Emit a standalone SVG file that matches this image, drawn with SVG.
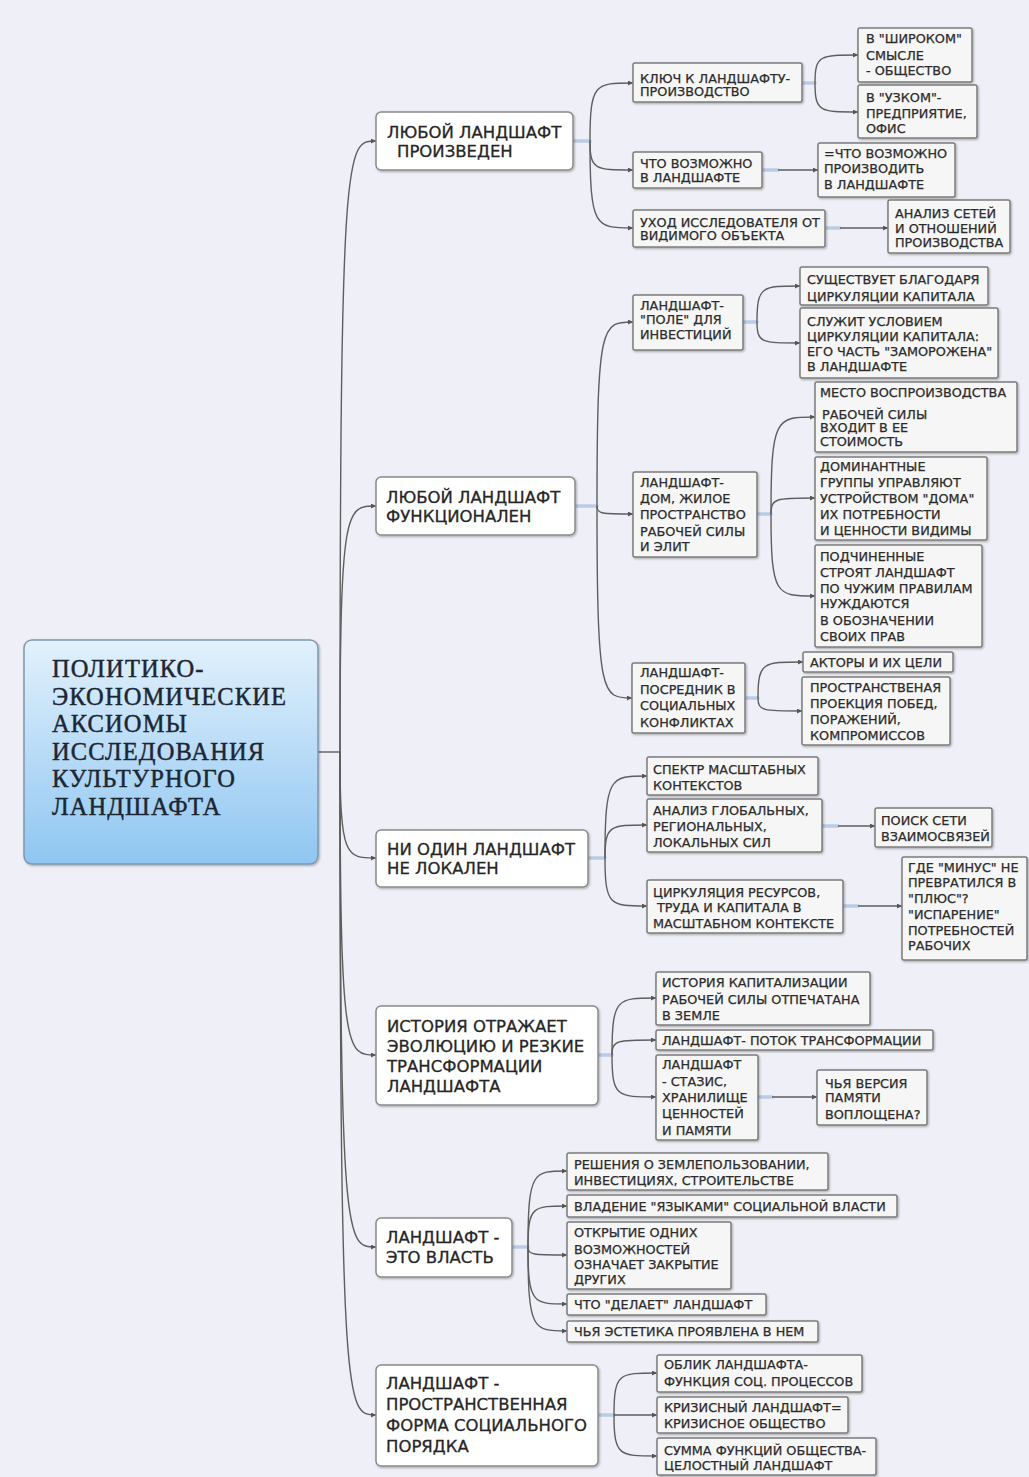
<svg xmlns="http://www.w3.org/2000/svg" width="1029" height="1477" viewBox="0 0 1029 1477">
<style>
.l1{fill:#ffffff;stroke:#8a8a8a;stroke-width:1.5}
.l2{fill:#f6f6f6;stroke:#7c7c7c;stroke-width:1.5}
.t0{font-family:"Liberation Serif","Times New Roman",serif;font-size:24.5px;letter-spacing:1.1px;fill:#1c2633;stroke:#1c2633;stroke-width:0.45}
.t1{font-family:"DejaVu Sans",Verdana,sans-serif;font-size:16.5px;fill:#262626;stroke:#262626;stroke-width:0.3}
.t2{font-family:"DejaVu Sans",Verdana,sans-serif;font-size:12.8px;fill:#2b2b2b;stroke:#2b2b2b;stroke-width:0.25}
.c{fill:none;stroke:#5e5e5e;stroke-width:1.4;marker-end:url(#ah)}
.c0{fill:none;stroke:#5e5e5e;stroke-width:1.4}
.hub{stroke:#b9cbe6;stroke-width:3.5;stroke-linecap:round}
</style>
<defs>
<linearGradient id="rg" x1="0" y1="0" x2="0" y2="1">
<stop offset="0" stop-color="#e2f1fc"/>
<stop offset="1" stop-color="#8fc6f1"/>
</linearGradient>
<filter id="sh" x="-5%" y="-5%" width="115%" height="120%">
<feDropShadow dx="1" dy="1.2" stdDeviation="0.8" flood-color="#000" flood-opacity="0.3"/>
</filter>
<marker id="ah" markerWidth="5" markerHeight="5" refX="5" refY="2.5" orient="auto" markerUnits="userSpaceOnUse">
<path d="M0,0 L5,2.5 L0,5 z" fill="#555"/>
</marker>
</defs>
<rect x="0" y="0" width="1029" height="1477" fill="#eff0f7"/>

<g id="connectors">
<path class="c0" d="M318,752 H340"/>
<path class="c" d="M340,752 C340,141 346,141 376,141"/>
<path class="c" d="M340,752 C340,506 346,506 376,506"/>
<path class="c" d="M340,752 C340,858 346,858 376,858"/>
<path class="c" d="M340,752 C340,1055 346,1055 376,1055"/>
<path class="c" d="M340,752 C340,1247 346,1247 376,1247"/>
<path class="c" d="M340,752 C340,1415 346,1415 376,1415"/>

<line class="hub" x1="574" y1="141" x2="590" y2="141"/>
<path class="c" d="M590,141 C590,83 595,83 633,83"/>
<path class="c" d="M590,141 C590,170 595,170 633,170"/>
<path class="c" d="M590,141 C590,228 595,228 633,228"/>

<line class="hub" x1="803" y1="83" x2="815" y2="83"/>
<path class="c" d="M815,83 C815,55 820,55 858,55"/>
<path class="c" d="M815,83 C815,112 820,112 858,112"/>

<line class="hub" x1="763" y1="170" x2="778" y2="170"/>
<path class="c" d="M778,170 H818"/>
<line class="hub" x1="826" y1="228" x2="840" y2="228"/>
<path class="c" d="M840,228 H888"/>

<line class="hub" x1="576" y1="506" x2="597" y2="506"/>
<path class="c" d="M597,506 C597,322 602,322 633,322"/>
<path class="c" d="M597,506 C597,514 602,514 633,514"/>
<path class="c" d="M597,506 C597,698 602,698 632,698"/>

<line class="hub" x1="744" y1="322" x2="757" y2="322"/>
<path class="c" d="M757,322 C757,286 762,286 800,286"/>
<path class="c" d="M757,322 C757,343 762,343 800,343"/>

<line class="hub" x1="758" y1="514" x2="771" y2="514"/>
<path class="c" d="M771,514 C771,417 776,417 815,417"/>
<path class="c" d="M771,514 C771,498 776,498 815,498"/>
<path class="c" d="M771,514 C771,596 776,596 815,596"/>

<line class="hub" x1="746" y1="698" x2="758" y2="698"/>
<path class="c" d="M758,698 C758,662 763,662 803,662"/>
<path class="c" d="M758,698 C758,711 763,711 802,711"/>

<line class="hub" x1="589" y1="858" x2="605" y2="858"/>
<path class="c" d="M605,858 C605,776 610,776 647,776"/>
<path class="c" d="M605,858 C605,825 610,825 647,825"/>
<path class="c" d="M605,858 C605,906 610,906 647,906"/>

<line class="hub" x1="823" y1="826" x2="838" y2="826"/>
<path class="c" d="M838,826 H875"/>
<line class="hub" x1="844" y1="906" x2="858" y2="906"/>
<path class="c" d="M858,906 H902"/>

<line class="hub" x1="599" y1="1055" x2="612" y2="1055"/>
<path class="c" d="M612,1055 C612,998 617,998 656,998"/>
<path class="c" d="M612,1055 C612,1040 617,1040 656,1040"/>
<path class="c" d="M612,1055 C612,1097 617,1097 656,1097"/>

<line class="hub" x1="759" y1="1097" x2="772" y2="1097"/>
<path class="c" d="M772,1097 H817"/>

<line class="hub" x1="513" y1="1247" x2="528" y2="1247"/>
<path class="c" d="M528,1247 C528,1171 533,1171 567,1171"/>
<path class="c" d="M528,1247 C528,1206 533,1206 567,1206"/>
<path class="c" d="M528,1247 C528,1255 533,1255 567,1255"/>
<path class="c" d="M528,1247 C528,1304 533,1304 567,1304"/>
<path class="c" d="M528,1247 C528,1331 533,1331 567,1331"/>

<line class="hub" x1="599" y1="1415" x2="614" y2="1415"/>
<path class="c" d="M614,1415 C614,1373 619,1373 657,1373"/>
<path class="c" d="M614,1415 C614,1415 619,1415 657,1415"/>
<path class="c" d="M614,1415 C614,1456 619,1456 657,1456"/>
</g>

<g id="root">
<rect x="24" y="640" width="294" height="224" rx="8" fill="url(#rg)" stroke="#7f97ad" stroke-width="1.5" filter="url(#sh)"/>
<text class="t0"><tspan x="52" y="677">ПОЛИТИКО-</tspan><tspan x="52" y="704.5">ЭКОНОМИЧЕСКИЕ</tspan><tspan x="52" y="732">АКСИОМЫ</tspan><tspan x="52" y="759.5">ИССЛЕДОВАНИЯ</tspan><tspan x="52" y="787">КУЛЬТУРНОГО</tspan><tspan x="52" y="814.5">ЛАНДШАФТА</tspan></text>
</g>

<g id="n1">
<rect class="l1" x="376" y="112" width="197" height="58" rx="5" filter="url(#sh)"/>
<text class="t1"><tspan x="387" y="138">ЛЮБОЙ ЛАНДШАФТ</tspan><tspan x="397" y="157">ПРОИЗВЕДЕН</tspan></text>
</g>
<g id="n2">
<rect class="l1" x="376" y="477" width="199" height="58" rx="5" filter="url(#sh)"/>
<text class="t1"><tspan x="386" y="503">ЛЮБОЙ ЛАНДШАФТ</tspan><tspan x="386" y="522">ФУНКЦИОНАЛЕН</tspan></text>
</g>
<g id="n3">
<rect class="l1" x="376" y="830" width="212" height="57" rx="5" filter="url(#sh)"/>
<text class="t1"><tspan x="387" y="855">НИ ОДИН ЛАНДШАФТ</tspan><tspan x="387" y="874">НЕ ЛОКАЛЕН</tspan></text>
</g>
<g id="n4">
<rect class="l1" x="376" y="1006" width="222" height="99" rx="5" filter="url(#sh)"/>
<text class="t1"><tspan x="387" y="1032">ИСТОРИЯ ОТРАЖАЕТ</tspan><tspan x="387" y="1052">ЭВОЛЮЦИЮ И РЕЗКИЕ</tspan><tspan x="387" y="1072">ТРАНСФОРМАЦИИ</tspan><tspan x="387" y="1092">ЛАНДШАФТА</tspan></text>
</g>
<g id="n5">
<rect class="l1" x="376" y="1218" width="136" height="59" rx="5" filter="url(#sh)"/>
<text class="t1"><tspan x="386" y="1243">ЛАНДШАФТ -</tspan><tspan x="386" y="1263">ЭТО ВЛАСТЬ</tspan></text>
</g>
<g id="n6">
<rect class="l1" x="376" y="1365" width="222" height="101" rx="5" filter="url(#sh)"/>
<text class="t1"><tspan x="386" y="1389">ЛАНДШАФТ -</tspan><tspan x="386" y="1410">ПРОСТРАНСТВЕННАЯ</tspan><tspan x="386" y="1431">ФОРМА СОЦИАЛЬНОГО</tspan><tspan x="386" y="1452">ПОРЯДКА</tspan></text>
</g>

<g id="a1">
<rect class="l2" x="633" y="63" width="169" height="39" rx="2" filter="url(#sh)"/>
<text class="t2"><tspan x="640" y="83">КЛЮЧ К ЛАНДШАФТУ-</tspan><tspan x="640" y="96">ПРОИЗВОДСТВО</tspan></text>
</g>
<g id="a1a">
<rect class="l2" x="858" y="28" width="114" height="54" rx="2" filter="url(#sh)"/>
<text class="t2"><tspan x="866" y="43">В "ШИРОКОМ"</tspan><tspan x="866" y="60">СМЫСЛЕ</tspan><tspan x="866" y="75">- ОБЩЕСТВО</tspan></text>
</g>
<g id="a1b">
<rect class="l2" x="858" y="85" width="119" height="53" rx="2" filter="url(#sh)"/>
<text class="t2"><tspan x="866" y="102">В "УЗКОМ"-</tspan><tspan x="866" y="118">ПРЕДПРИЯТИЕ,</tspan><tspan x="866" y="133">ОФИС</tspan></text>
</g>
<g id="a2">
<rect class="l2" x="633" y="152" width="129" height="36" rx="2" filter="url(#sh)"/>
<text class="t2"><tspan x="640" y="168">ЧТО ВОЗМОЖНО</tspan><tspan x="640" y="182">В ЛАНДШАФТЕ</tspan></text>
</g>
<g id="a2a">
<rect class="l2" x="818" y="143" width="137" height="54" rx="2" filter="url(#sh)"/>
<text class="t2"><tspan x="824" y="158">=ЧТО ВОЗМОЖНО</tspan><tspan x="824" y="173">ПРОИЗВОДИТЬ</tspan><tspan x="824" y="189">В ЛАНДШАФТЕ</tspan></text>
</g>
<g id="a3">
<rect class="l2" x="633" y="210" width="192" height="37" rx="2" filter="url(#sh)"/>
<text class="t2"><tspan x="640" y="227">УХОД ИССЛЕДОВАТЕЛЯ ОТ</tspan><tspan x="640" y="240">ВИДИМОГО ОБЪЕКТА</tspan></text>
</g>
<g id="a3a">
<rect class="l2" x="888" y="200" width="122" height="53" rx="2" filter="url(#sh)"/>
<text class="t2"><tspan x="895" y="218">АНАЛИЗ СЕТЕЙ</tspan><tspan x="895" y="233">И ОТНОШЕНИЙ</tspan><tspan x="895" y="247">ПРОИЗВОДСТВА</tspan></text>
</g>

<g id="b1">
<rect class="l2" x="633" y="295" width="110" height="55" rx="2" filter="url(#sh)"/>
<text class="t2"><tspan x="640" y="310">ЛАНДШАФТ-</tspan><tspan x="640" y="324">"ПОЛЕ" ДЛЯ</tspan><tspan x="640" y="339">ИНВЕСТИЦИЙ</tspan></text>
</g>
<g id="b1a">
<rect class="l2" x="800" y="267" width="188" height="38" rx="2" filter="url(#sh)"/>
<text class="t2"><tspan x="807" y="284">СУЩЕСТВУЕТ БЛАГОДАРЯ</tspan><tspan x="807" y="301">ЦИРКУЛЯЦИИ КАПИТАЛА</tspan></text>
</g>
<g id="b1b">
<rect class="l2" x="800" y="308" width="198" height="70" rx="2" filter="url(#sh)"/>
<text class="t2"><tspan x="807" y="326">СЛУЖИТ УСЛОВИЕМ</tspan><tspan x="807" y="341">ЦИРКУЛЯЦИИ КАПИТАЛА:</tspan><tspan x="807" y="356">ЕГО ЧАСТЬ "ЗАМОРОЖЕНА"</tspan><tspan x="807" y="371">В ЛАНДШАФТЕ</tspan></text>
</g>
<g id="b2">
<rect class="l2" x="633" y="472" width="124" height="85" rx="2" filter="url(#sh)"/>
<text class="t2"><tspan x="640" y="487">ЛАНДШАФТ-</tspan><tspan x="640" y="503">ДОМ, ЖИЛОЕ</tspan><tspan x="640" y="519">ПРОСТРАНСТВО</tspan><tspan x="640" y="536">РАБОЧЕЙ СИЛЫ</tspan><tspan x="640" y="551">И ЭЛИТ</tspan></text>
</g>
<g id="b2a">
<rect class="l2" x="815" y="382" width="202" height="70" rx="2" filter="url(#sh)"/>
<text class="t2"><tspan x="820" y="397">МЕСТО ВОСПРОИЗВОДСТВА</tspan><tspan x="822" y="419">РАБОЧЕЙ СИЛЫ</tspan><tspan x="820" y="432">ВХОДИТ В ЕЕ</tspan><tspan x="820" y="446">СТОИМОСТЬ</tspan></text>
</g>
<g id="b2b">
<rect class="l2" x="815" y="457" width="172" height="83" rx="2" filter="url(#sh)"/>
<text class="t2"><tspan x="820" y="471">ДОМИНАНТНЫЕ</tspan><tspan x="820" y="487">ГРУППЫ УПРАВЛЯЮТ</tspan><tspan x="820" y="503">УСТРОЙСТВОМ "ДОМА"</tspan><tspan x="820" y="519">ИХ ПОТРЕБНОСТИ</tspan><tspan x="820" y="535">И ЦЕННОСТИ ВИДИМЫ</tspan></text>
</g>
<g id="b2c">
<rect class="l2" x="815" y="545" width="167" height="102" rx="2" filter="url(#sh)"/>
<text class="t2"><tspan x="820" y="561">ПОДЧИНЕННЫЕ</tspan><tspan x="820" y="577">СТРОЯТ ЛАНДШАФТ</tspan><tspan x="820" y="593">ПО ЧУЖИМ ПРАВИЛАМ</tspan><tspan x="820" y="608">НУЖДАЮТСЯ</tspan><tspan x="820" y="625">В ОБОЗНАЧЕНИИ</tspan><tspan x="820" y="641">СВОИХ ПРАВ</tspan></text>
</g>
<g id="b3">
<rect class="l2" x="632" y="663" width="113" height="70" rx="2" filter="url(#sh)"/>
<text class="t2"><tspan x="640" y="677">ЛАНДШАФТ-</tspan><tspan x="640" y="694">ПОСРЕДНИК В</tspan><tspan x="640" y="710">СОЦИАЛЬНЫХ</tspan><tspan x="640" y="727">КОНФЛИКТАХ</tspan></text>
</g>
<g id="b3a">
<rect class="l2" x="803" y="652" width="150" height="20" rx="2" filter="url(#sh)"/>
<text class="t2"><tspan x="810" y="667">АКТОРЫ И ИХ ЦЕЛИ</tspan></text>
</g>
<g id="b3b">
<rect class="l2" x="802" y="677" width="148" height="68" rx="2" filter="url(#sh)"/>
<text class="t2"><tspan x="810" y="692">ПРОСТРАНСТВЕНАЯ</tspan><tspan x="810" y="708">ПРОЕКЦИЯ ПОБЕД,</tspan><tspan x="810" y="724">ПОРАЖЕНИЙ,</tspan><tspan x="810" y="740">КОМПРОМИССОВ</tspan></text>
</g>

<g id="c1">
<rect class="l2" x="647" y="757" width="171" height="38" rx="2" filter="url(#sh)"/>
<text class="t2"><tspan x="653" y="774">СПЕКТР МАСШТАБНЫХ</tspan><tspan x="653" y="790">КОНТЕКСТОВ</tspan></text>
</g>
<g id="c2">
<rect class="l2" x="647" y="799" width="175" height="53" rx="2" filter="url(#sh)"/>
<text class="t2"><tspan x="653" y="815">АНАЛИЗ ГЛОБАЛЬНЫХ,</tspan><tspan x="653" y="831">РЕГИОНАЛЬНЫХ,</tspan><tspan x="653" y="847">ЛОКАЛЬНЫХ СИЛ</tspan></text>
</g>
<g id="c2a">
<rect class="l2" x="875" y="808" width="117" height="39" rx="2" filter="url(#sh)"/>
<text class="t2"><tspan x="881" y="825">ПОИСК СЕТИ</tspan><tspan x="881" y="841">ВЗАИМОСВЯЗЕЙ</tspan></text>
</g>
<g id="c3">
<rect class="l2" x="647" y="880" width="196" height="53" rx="2" filter="url(#sh)"/>
<text class="t2"><tspan x="653" y="897">ЦИРКУЛЯЦИЯ РЕСУРСОВ,</tspan><tspan x="657" y="912">ТРУДА И КАПИТАЛА В</tspan><tspan x="653" y="928">МАСШТАБНОМ КОНТЕКСТЕ</tspan></text>
</g>
<g id="c3a">
<rect class="l2" x="902" y="857" width="125" height="103" rx="2" filter="url(#sh)"/>
<text class="t2"><tspan x="908" y="872">ГДЕ "МИНУС" НЕ</tspan><tspan x="908" y="887">ПРЕВРАТИЛСЯ В</tspan><tspan x="908" y="903">"ПЛЮС"?</tspan><tspan x="908" y="919">"ИСПАРЕНИЕ"</tspan><tspan x="908" y="935">ПОТРЕБНОСТЕЙ</tspan><tspan x="908" y="950">РАБОЧИХ</tspan></text>
</g>

<g id="d1">
<rect class="l2" x="656" y="972" width="214" height="53" rx="2" filter="url(#sh)"/>
<text class="t2"><tspan x="662" y="987">ИСТОРИЯ КАПИТАЛИЗАЦИИ</tspan><tspan x="662" y="1004">РАБОЧЕЙ СИЛЫ ОТПЕЧАТАНА</tspan><tspan x="662" y="1020">В ЗЕМЛЕ</tspan></text>
</g>
<g id="d2">
<rect class="l2" x="656" y="1030" width="277" height="20" rx="2" filter="url(#sh)"/>
<text class="t2"><tspan x="662" y="1045">ЛАНДШАФТ- ПОТОК ТРАНСФОРМАЦИИ</tspan></text>
</g>
<g id="d3">
<rect class="l2" x="656" y="1055" width="102" height="85" rx="2" filter="url(#sh)"/>
<text class="t2"><tspan x="662" y="1069">ЛАНДШАФТ</tspan><tspan x="662" y="1086">- СТАЗИС,</tspan><tspan x="662" y="1102">ХРАНИЛИЩЕ</tspan><tspan x="662" y="1118">ЦЕННОСТЕЙ</tspan><tspan x="662" y="1135">И ПАМЯТИ</tspan></text>
</g>
<g id="d3a">
<rect class="l2" x="817" y="1070" width="110" height="55" rx="2" filter="url(#sh)"/>
<text class="t2"><tspan x="825" y="1088">ЧЬЯ ВЕРСИЯ</tspan><tspan x="825" y="1102">ПАМЯТИ</tspan><tspan x="825" y="1119">ВОПЛОЩЕНА?</tspan></text>
</g>

<g id="e1">
<rect class="l2" x="567" y="1153" width="261" height="37" rx="2" filter="url(#sh)"/>
<text class="t2"><tspan x="574" y="1169">РЕШЕНИЯ О ЗЕМЛЕПОЛЬЗОВАНИИ,</tspan><tspan x="574" y="1185">ИНВЕСТИЦИЯХ, СТРОИТЕЛЬСТВЕ</tspan></text>
</g>
<g id="e2">
<rect class="l2" x="567" y="1195" width="330" height="22" rx="2" filter="url(#sh)"/>
<text class="t2"><tspan x="574" y="1211">ВЛАДЕНИЕ "ЯЗЫКАМИ" СОЦИАЛЬНОЙ ВЛАСТИ</tspan></text>
</g>
<g id="e3">
<rect class="l2" x="567" y="1222" width="164" height="67" rx="2" filter="url(#sh)"/>
<text class="t2"><tspan x="574" y="1237">ОТКРЫТИЕ ОДНИХ</tspan><tspan x="574" y="1254">ВОЗМОЖНОСТЕЙ</tspan><tspan x="574" y="1269">ОЗНАЧАЕТ ЗАКРЫТИЕ</tspan><tspan x="574" y="1284">ДРУГИХ</tspan></text>
</g>
<g id="e4">
<rect class="l2" x="567" y="1294" width="199" height="21" rx="2" filter="url(#sh)"/>
<text class="t2"><tspan x="574" y="1309">ЧТО "ДЕЛАЕТ" ЛАНДШАФТ</tspan></text>
</g>
<g id="e5">
<rect class="l2" x="567" y="1321" width="251" height="21" rx="2" filter="url(#sh)"/>
<text class="t2"><tspan x="574" y="1336">ЧЬЯ ЭСТЕТИКА ПРОЯВЛЕНА В НЕМ</tspan></text>
</g>

<g id="f1">
<rect class="l2" x="657" y="1355" width="205" height="37" rx="2" filter="url(#sh)"/>
<text class="t2"><tspan x="664" y="1369">ОБЛИК ЛАНДШАФТА-</tspan><tspan x="664" y="1386">ФУНКЦИЯ СОЦ. ПРОЦЕССОВ</tspan></text>
</g>
<g id="f2">
<rect class="l2" x="657" y="1397" width="191" height="36" rx="2" filter="url(#sh)"/>
<text class="t2"><tspan x="664" y="1412">КРИЗИСНЫЙ ЛАНДШАФТ=</tspan><tspan x="664" y="1428">КРИЗИСНОЕ ОБЩЕСТВО</tspan></text>
</g>
<g id="f3">
<rect class="l2" x="657" y="1438" width="219" height="37" rx="2" filter="url(#sh)"/>
<text class="t2"><tspan x="664" y="1455">СУММА ФУНКЦИЙ ОБЩЕСТВА-</tspan><tspan x="664" y="1470">ЦЕЛОСТНЫЙ ЛАНДШАФТ</tspan></text>
</g>
</svg>
